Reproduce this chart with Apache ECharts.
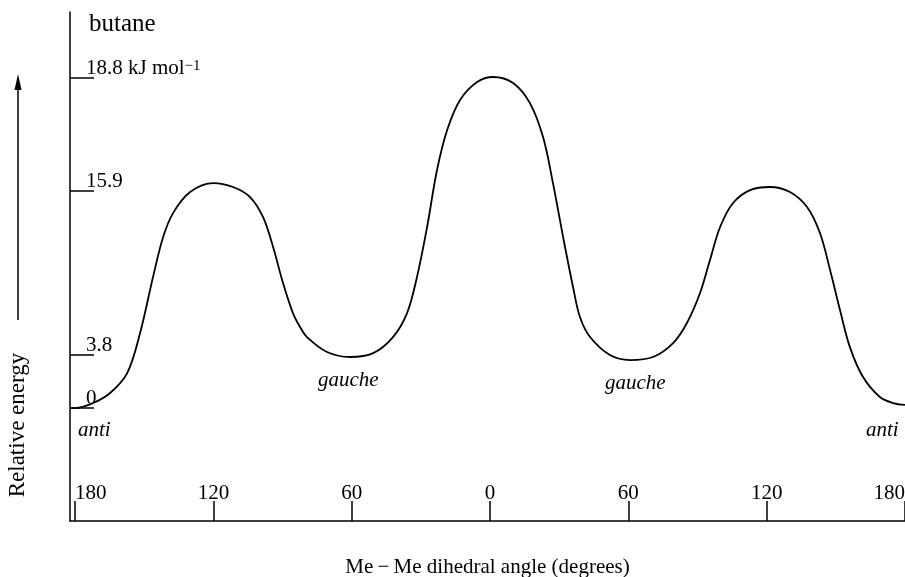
<!DOCTYPE html>
<html>
<head>
<meta charset="utf-8">
<title>butane</title>
<script src="https://cdn.jsdelivr.net/npm/echarts@6/dist/echarts.min.js"></script>
<style>
  html, body { margin: 0; padding: 0; background: #fff; overflow: hidden; }
  #chart { position: absolute; left: 0; top: 0; width: 905px; height: 577px; }
</style>
</head>
<body>
<div id="chart"></div>
<script>
// dihedral angle (deg, -180..180 drawn left to right) and schematic curve height
const angle = [-181.7, -180, -172.2, -164.8, -157.4, -151.8, -146.2, -141.8, -137.5, -130.1,
  -120.1, -111.5, -104.1, -98.5, -94.1, -89.8, -85.5, -82.4, -79.4, -70.7,
  -60.7, -50.7, -42.1, -36.0, -31.7, -27.3, -23.0, -18.6, -13.0, -5.6,
  1.3, 10.0, 17.3, 23.0, 27.3, 31.7, 36.0, 39.0, 43.4, 52.0,
  60.7, 70.7, 79.4, 85.4, 91.1, 95.4, 99.8, 105.4, 112.8, 121.4,
  130.1, 137.5, 143.1, 147.5, 151.8, 156.1, 161.8, 169.1, 174.8, 180];
const energy = [0, 0, 0.36, 1.08, 2.51, 5.38, 9.39, 12.26, 13.98, 15.49,
  16.13, 15.85, 15.13, 13.70, 11.55, 8.96, 6.81, 5.81, 5.09, 4.02,
  3.66, 3.94, 5.09, 6.81, 9.39, 12.98, 17.07, 19.94, 22.09, 23.38,
  23.74, 23.31, 21.87, 19.43, 16.13, 12.26, 8.68, 6.53, 5.09, 3.80,
  3.44, 3.66, 4.66, 6.10, 8.25, 10.61, 12.98, 14.70, 15.63, 15.85,
  15.49, 14.41, 12.55, 9.90, 7.03, 4.37, 2.22, 0.79, 0.36, 0.22];

// x ticks
const angleTicks = [-180, -120, -60, 0, 60, 120, 180];
// energy levels: where they sit on the (schematic) drawing and what they read
const levelPos = [0, 3.8, 15.6, 23.7];
const levelText = ['0', '3.8', '15.9', '18.8 kJ mol'];

// conformer names under the minima
const confNames = ['anti', 'gauche', 'gauche', 'anti'];

const font = 'Liberation Serif';
const chart = echarts.init(document.getElementById('chart'));

const option = {
  animation: false,
  backgroundColor: '#fff',
  textStyle: { fontFamily: font, color: '#000' },
  grid: { left: 70, right: 0, top: 12, bottom: 56, containLabel: false, outerBoundsMode: 'none' },
  xAxis: {
    type: 'value',
    min: -182.2,
    max: 180,
    name: 'Me\u2009\u2212\u2009Me dihedral angle (degrees)',
    nameLocation: 'middle',
    nameGap: 36,
    nameTextStyle: { fontFamily: font, fontSize: 21, color: '#000' },
    axisLine: { show: true, onZero: false, lineStyle: { color: '#000', width: 1.5 } },
    splitLine: { show: false },
    axisTick: {
      show: true,
      inside: true,
      length: 20,
      customValues: angleTicks,
      lineStyle: { color: '#000', width: 1.5 }
    },
    axisLabel: {
      inside: true,
      margin: 17,
      customValues: angleTicks,
      fontFamily: font,
      fontSize: 21,
      color: '#000',
      alignMinLabel: 'left',
      alignMaxLabel: 'right',
      formatter: v => String(Math.abs(v))
    }
  },
  yAxis: {
    type: 'value',
    min: -8.1,
    max: 28.4,
    axisLine: { show: true, onZero: false, lineStyle: { color: '#000', width: 1.5 } },
    splitLine: { show: false },
    axisTick: {
      show: true,
      inside: true,
      length: 24,
      customValues: levelPos,
      lineStyle: { color: '#000', width: 1.5 }
    },
    axisLabel: {
      inside: true,
      margin: 16,
      customValues: levelPos,
      verticalAlign: 'bottom',
      fontFamily: font,
      fontSize: 21,
      color: '#000',
      formatter: v => {
        const i = levelPos.indexOf(v);
        const t = i < 0 ? '' : levelText[i];
        return i === levelPos.length - 1 ? '{a|' + t + '}{s|\u22121}' : '{a|' + t + '}';
      },
      rich: {
        a: { fontFamily: font, fontSize: 21, lineHeight: 19, color: '#000' },
        s: { fontFamily: font, fontSize: 15, color: '#000', verticalAlign: 'top' }
      }
    }
  },
  graphic: [
    {
      type: 'text',
      left: 89,
      top: 12,
      style: { text: 'butane', font: '25px "Liberation Serif"', fill: '#000' }
    },
    {
      type: 'text',
      x: 18,
      y: 425,
      rotation: Math.PI / 2,
      style: {
        text: 'Relative energy',
        font: '23px "Liberation Serif"',
        fill: '#000',
        align: 'center',
        verticalAlign: 'middle'
      }
    },
    {
      type: 'line',
      shape: { x1: 18, y1: 320, x2: 18, y2: 82 },
      style: { stroke: '#000', lineWidth: 1.5 }
    },
    {
      type: 'polygon',
      shape: { points: [[18, 74], [14.5, 90], [21.5, 90]] },
      style: { fill: '#000' }
    },
    {
      type: 'text', left: 78, top: 420,
      style: { text: confNames[0], font: 'italic 21px "Liberation Serif"', fill: '#000' }
    },
    {
      type: 'text', left: 318, top: 370,
      style: { text: confNames[1], font: 'italic 21px "Liberation Serif"', fill: '#000' }
    },
    {
      type: 'text', left: 605, top: 373,
      style: { text: confNames[2], font: 'italic 21px "Liberation Serif"', fill: '#000' }
    },
    {
      type: 'text', left: 866, top: 420,
      style: { text: confNames[3], font: 'italic 21px "Liberation Serif"', fill: '#000' }
    }
  ],
  series: [
    {
      type: 'line',
      data: angle.map((a, i) => [a, energy[i]]),
      showSymbol: false,
      smooth: 0.35,
      clip: false,
      lineStyle: { color: '#000', width: 1.8 }
    }
  ]
};

chart.setOption(option);
</script>
</body>
</html>
